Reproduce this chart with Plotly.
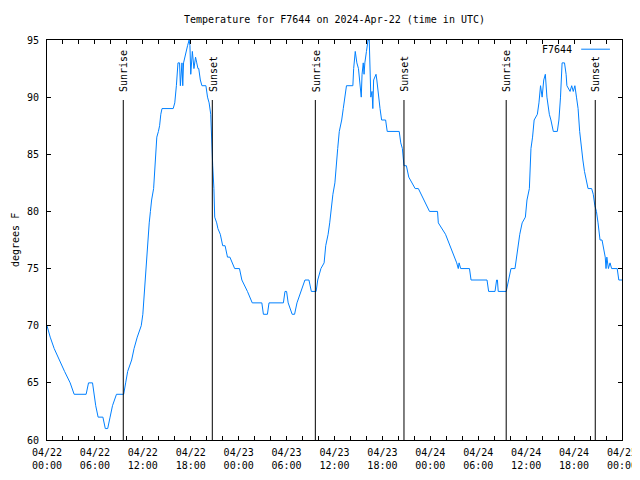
import pandas as pd
import plotly.graph_objects as go

# ---- data (hours since 2024-04-22 00:00 UTC, temperature in F) ----
hours = [0.0, 0.4, 0.9, 1.5, 2.2, 2.9, 3.4, 4.9, 5.2, 5.7, 5.9, 6.1, 6.4, 7.0, 7.3, 7.6, 7.9, 8.2,
         8.7, 9.6, 9.85, 10.1, 10.6, 10.9, 11.3, 11.8, 12.0, 12.2, 12.35, 12.5, 12.65, 12.8, 12.95,
         13.1, 13.35, 13.5, 13.6, 13.75, 13.95, 14.1, 14.25, 14.4, 15.8, 16.0, 16.2, 16.4, 16.6,
         16.7, 16.9, 17.0, 17.1, 17.4, 17.6, 17.8, 17.9, 18.0, 18.2, 18.4, 18.6, 18.75, 18.9, 19.0,
         19.2, 19.4, 19.9, 20.1, 20.3, 20.5, 20.6, 20.75, 20.9, 21.0, 21.25, 21.4, 21.7, 22.0, 22.3,
         22.6, 22.9, 23.5, 24.1, 24.4, 25.1, 25.7, 26.9, 27.1, 27.6, 27.8, 29.6, 29.8, 30.0, 30.2,
         30.7, 31.0, 31.3, 31.8, 32.1, 32.3, 32.8, 33.1, 33.7, 33.9, 34.3, 34.7, 34.9, 35.2, 35.4,
         35.6, 35.8, 36.05, 36.25, 36.4, 36.6, 36.9, 37.1, 37.3, 37.5, 38.3, 38.4, 38.6, 38.8, 39.0,
         39.2, 39.35, 39.45, 39.6, 39.7, 39.8, 40.0, 40.2, 40.35, 40.45, 40.55, 40.7, 40.8, 40.9,
         41.2, 41.3, 41.5, 41.7, 41.9, 42.4, 42.6, 44.1, 44.3, 44.5, 44.7, 45.0, 45.3, 46.1, 46.5,
         47.2, 47.9, 48.9, 49.0, 49.9, 50.2, 50.5, 51.0, 51.3, 51.5, 51.6, 51.8, 52.1, 52.9, 53.1,
         55.1, 55.3, 56.1, 56.3, 56.4, 56.5, 57.5, 57.8, 58.1, 58.6, 58.9, 59.2, 59.5, 59.9, 60.1,
         60.4, 60.6, 60.8, 61.0, 61.4, 61.6, 61.8, 62.0, 62.2, 62.4, 62.6, 62.9, 63.1, 63.4, 63.9,
         64.1, 64.3, 64.5, 64.8, 65.0, 65.1, 65.5, 65.7, 65.9, 66.1, 66.3, 66.5, 66.7, 66.9, 67.1,
         67.3, 67.6, 67.75, 68.2, 68.4, 68.6, 68.8, 69.0, 69.25, 69.5, 69.75, 69.9, 70.0, 70.1,
         70.3, 70.5, 70.7, 71.4, 71.6, 72.0]
temps = [70, 69, 68, 67, 66, 65, 64, 64, 65, 65, 64, 63, 62, 62, 61, 61, 62, 63,
         64, 64, 65, 66, 67, 68, 69, 70, 71, 73, 75, 76, 77.5, 79, 80,
         81, 82, 83.5, 85, 86.5, 87, 87.5, 88.5, 89, 89, 89.5, 91, 93, 93,
         91, 93, 91, 93, 94, 94.5, 95, 94.5, 92, 94, 92.5, 93.5, 93, 92.5, 92.5,
         91.5, 91, 91, 90, 89.5, 88.5, 86, 84, 82, 79.5, 79, 78.5, 78, 77, 77,
         76, 76, 75, 75, 74, 73, 72, 72, 71, 71, 72, 72, 73, 73, 72,
         71, 71, 72, 73, 73.5, 74, 74, 73, 73, 74, 75, 75.5, 77, 78, 79,
         80.5, 81.5, 82.5, 84.5, 85.5, 87, 88, 89, 90, 91, 91, 92.5, 94, 93, 92.5,
         91, 90, 92, 93, 92, 93, 94, 95, 95, 92, 90, 90.5, 89, 91.5,
         92, 91.5, 90, 89, 88, 88, 87, 87, 86, 85.5, 84, 84, 83, 82, 82,
         81, 80, 80, 79, 78, 77.5, 77, 76, 75.5, 75, 75.5, 75, 75, 75, 74,
         74, 73, 73, 74, 74, 73, 73, 74, 75, 75, 76.5, 78, 79, 79.5, 81,
         82, 85.5, 86.5, 88, 88.5, 89.5, 91, 90, 91.5, 92, 90, 88.5, 88, 87, 87,
         88, 90, 93, 93, 92, 91, 90.5, 91, 90.5, 91, 90, 89, 87, 85.5, 84.5,
         83.5, 82.5, 82, 82, 81.5, 80.5, 80, 79, 77.5, 77.5, 76.5, 76, 75, 76,
         75, 75.5, 75, 75, 74, 74]
sunrise_hours = [9.55, 33.6, 57.5]
sunset_hours = [20.7, 44.7, 68.65]
tick_hours = [0, 6, 12, 18, 24, 30, 36, 42, 48, 54, 60, 66, 72]
tick_labels = ["04/22<br>00:00", "04/22<br>06:00", "04/22<br>12:00", "04/22<br>18:00",
               "04/23<br>00:00", "04/23<br>06:00", "04/23<br>12:00", "04/23<br>18:00",
               "04/24<br>00:00", "04/24<br>06:00", "04/24<br>12:00", "04/24<br>18:00",
               "04/25<br>00:00"]
y_ticks = [60, 65, 70, 75, 80, 85, 90, 95]
series_name = "F7644"
title_text = "Temperature for F7644 on 2024-Apr-22 (time in UTC)"

base = pd.Timestamp("2024-04-22 00:00")
def to_time(h):
    return base + pd.to_timedelta(h, unit="h")

times = [to_time(h) for h in hours]

FONT = "DejaVu Sans Mono"
BLUE = "rgb(0,128,255)"
W, H = 632, 472   # page body adds an 8px margin around the figure

fig = go.Figure()
fig.add_trace(go.Scatter(x=times, y=temps, mode="lines", name=series_name,
                         line=dict(color=BLUE, width=1), showlegend=False))

shapes = []
annotations = []
for lab, hs in (("Sunrise", sunrise_hours), ("Sunset", sunset_hours)):
    for h in hs:
        t = to_time(h)
        shapes.append(dict(type="line", xref="x", yref="paper", x0=t, x1=t, y0=0, y1=0.85,
                           line=dict(color="black", width=1)))
        annotations.append(dict(x=t, y=0.868, xref="x", yref="paper", text=lab, showarrow=False,
                                textangle=-90, xanchor="center", yanchor="bottom", borderpad=0,
                                xshift=1, font=dict(family=FONT, size=10, color="black")))

# legend (text left of line sample, as in the reference)
annotations.append(dict(x=0.9165, y=0.977, xref="paper", yref="paper", text=series_name,
                        showarrow=False, xanchor="right", yanchor="middle",
                        font=dict(family=FONT, size=10, color="black")))
shapes.append(dict(type="line", xref="paper", yref="paper", x0=0.929, x1=0.979, y0=0.977, y1=0.977,
                   line=dict(color=BLUE, width=1)))
# y axis title
annotations.append(dict(x=0, y=0.5, xref="paper", yref="paper", text="degrees F", showarrow=False,
                        textangle=-90, xanchor="center", yanchor="middle", xshift=-32,
                        borderpad=0, font=dict(family=FONT, size=10, color="black")))

fig.update_layout(
    width=W, height=H,
    margin=dict(l=39, r=18, t=32, b=40, autoexpand=False),
    paper_bgcolor="white", plot_bgcolor="white",
    font=dict(family=FONT, size=10, color="black"),
    title=dict(text=title_text, x=0.5, xref="paper", y=1 - 11 / H, yanchor="middle",
               font=dict(family=FONT, size=10, color="black"), automargin=False),
    shapes=shapes, annotations=annotations,
    xaxis=dict(range=[to_time(0), to_time(72)], tickvals=[to_time(h) for h in tick_hours],
               ticktext=tick_labels, ticks="inside", ticklen=4, tickcolor="black",
               ticklabelstandoff=3,
               showgrid=False, zeroline=False, showline=True, linecolor="black", linewidth=1,
               mirror="ticks", automargin=False,
               minor=dict(dtick=2 * 3600000, ticks="inside", ticklen=4,
                          tickcolor="black", showgrid=False)),
    yaxis=dict(range=[60, 95], tickvals=y_ticks, ticks="inside", ticklen=4, tickcolor="black",
               ticklabelstandoff=5,
               showgrid=False, zeroline=False, showline=True, linecolor="black", linewidth=1,
               mirror="ticks", automargin=False),
)

fig.write_html("out.html")
